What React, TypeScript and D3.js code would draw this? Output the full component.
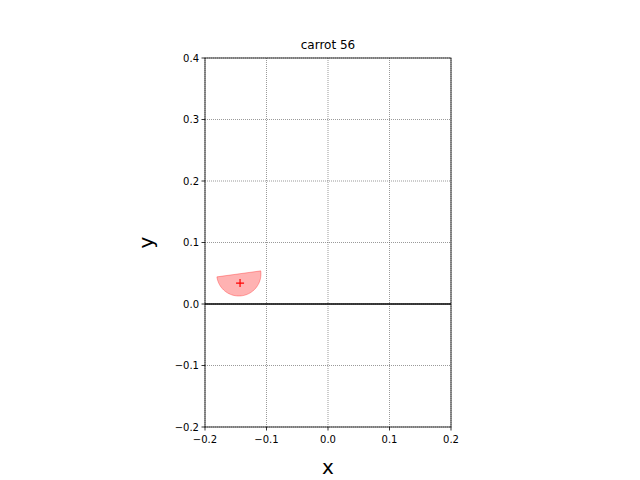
import * as React from "react";
import * as d3 from "d3";

const xTicks = [-0.2, -0.1, 0.0, 0.1, 0.2];
const yTicks = [-0.2, -0.1, 0.0, 0.1, 0.2, 0.3, 0.4];
const title = "carrot 56";
// half disc: centre of the flat edge, radius, tilt of the flat edge (degrees)
const discCenter = [-0.145, 0.049];
const discRadius = 0.036;
const discTilt = 7.8;
const centroid = [-0.143, 0.034];

export default function App() {
    const margin = { left: 205, top: 58, right: 189, bottom: 53 };
    const width = 640, height = 480;
    const x = d3.scaleLinear().domain([-0.2, 0.2]).range([margin.left, width - margin.right]);
    const y = d3.scaleLinear().domain([-0.2, 0.4]).range([height - margin.bottom, margin.top]);
    const fmt = (v: number) => v.toFixed(1).replace("-", "\u2212");

    const pts: [number, number][] = [];
    const t = discTilt * Math.PI / 180;
    for (let i = 0; i <= 60; i++) {
        const a = t + Math.PI + (i / 60) * Math.PI;
        pts.push([x(discCenter[0] + discRadius * Math.cos(a)), y(discCenter[1] + discRadius * Math.sin(a))]);
    }
    const path = d3.line()(pts) + "Z";
    const cx = x(centroid[0]), cy = y(centroid[1]);

    return (
        <svg width={width} height={height} style={{ position: "absolute", left: 0, top: 0 }}
            fontFamily="DejaVu Sans">
            <rect width={width} height={height} fill="#fff" />
            {xTicks.map(v => <line key={"gx" + v} x1={x(v)} x2={x(v)} y1={y(-0.2)} y2={y(0.4)}
                stroke="#555" strokeWidth={0.6} strokeDasharray="1,1" />)}
            {yTicks.map(v => <line key={"gy" + v} y1={y(v)} y2={y(v)} x1={x(-0.2)} x2={x(0.2)}
                stroke="#555" strokeWidth={0.6} strokeDasharray="1,1" />)}
            <line x1={x(-0.2)} x2={x(0.2)} y1={y(0)} y2={y(0)} stroke="#000" strokeWidth={1.5} />
            <path d={path} fill="rgba(255,0,0,0.3)" stroke="rgba(255,0,0,0.3)" strokeWidth={1} />
            <path d={`M${cx - 4},${cy}H${cx + 4}M${cx},${cy - 4}V${cy + 4}`} stroke="red" strokeWidth={1.2} />
            <rect x={x(-0.2)} y={y(0.4)} width={x(0.2) - x(-0.2)} height={y(-0.2) - y(0.4)}
                fill="none" stroke="#000" strokeWidth={0.8} />
            {xTicks.map(v => <g key={"tx" + v}>
                <line x1={x(v)} x2={x(v)} y1={y(-0.2)} y2={y(-0.2) + 3.5} stroke="#000" strokeWidth={0.8} />
                <text x={x(v)} y={y(-0.2) + 16} fontSize={10} textAnchor="middle">{fmt(v)}</text>
            </g>)}
            {yTicks.map(v => <g key={"ty" + v}>
                <line x1={x(-0.2) - 3.5} x2={x(-0.2)} y1={y(v)} y2={y(v)} stroke="#000" strokeWidth={0.8} />
                <text x={x(-0.2) - 6} y={y(v) + 3.5} fontSize={10} textAnchor="end">{fmt(v)}</text>
            </g>)}
            <text x={(x(-0.2) + x(0.2)) / 2} y={474} fontSize={20} textAnchor="middle">x</text>
            <text transform={`translate(153,${(y(-0.2) + y(0.4)) / 2}) rotate(-90)`} fontSize={20}
                textAnchor="middle">y</text>
            <text x={(x(-0.2) + x(0.2)) / 2} y={49} fontSize={12} textAnchor="middle">{title}</text>
        </svg>
    );
}
